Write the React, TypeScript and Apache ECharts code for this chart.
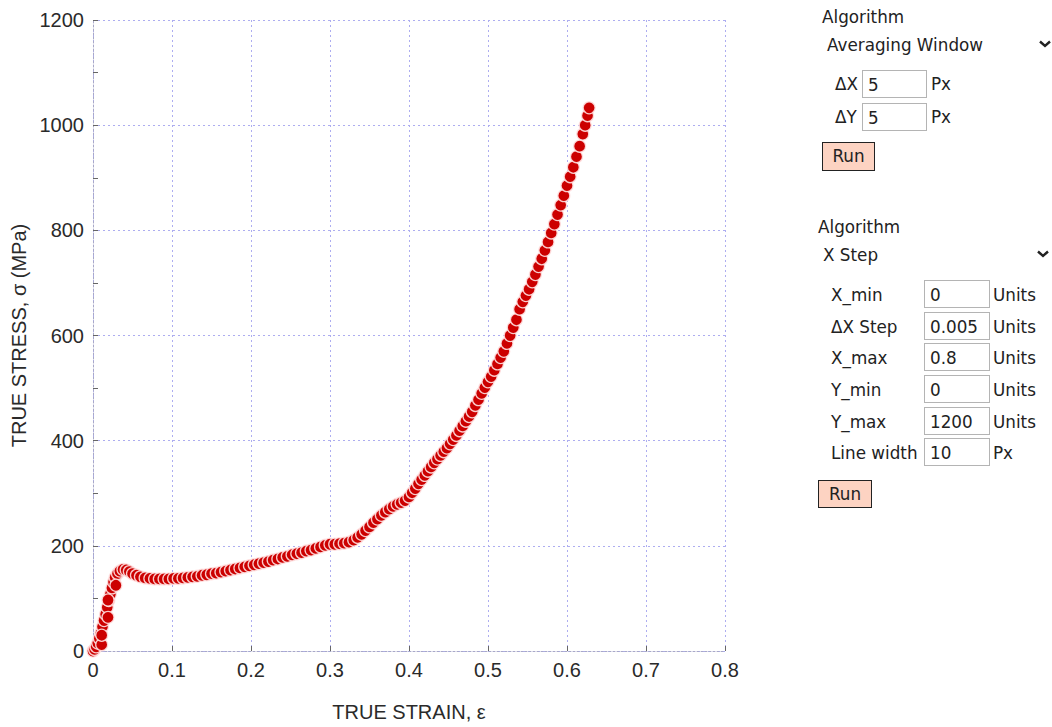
import React, { useEffect, useRef } from "react";
import * as echarts from "echarts";

// True strain / true stress points
const strain = [
  0, 0.002, 0.004, 0.006, 0.008, 0.01, 0.012, 0.014, 0.016, 0.018, 0.02, 0.022, 0.024, 0.026, 0.028,
  0.031, 0.034, 0.038, 0.042, 0.046, 0.05, 0.055, 0.06, 0.066, 0.072, 0.078, 0.084, 0.09, 0.096,
  0.102, 0.108, 0.114, 0.12, 0.126, 0.132, 0.138, 0.144, 0.15, 0.156, 0.162, 0.168, 0.174, 0.18,
  0.186, 0.192, 0.198, 0.204, 0.21, 0.216, 0.222, 0.228, 0.234, 0.24, 0.246, 0.252, 0.258, 0.264,
  0.27, 0.276, 0.282, 0.288, 0.294, 0.3, 0.306, 0.312, 0.318, 0.324, 0.33, 0.335, 0.34, 0.345, 0.35,
  0.355, 0.36, 0.365, 0.37, 0.375, 0.38, 0.385, 0.39, 0.395, 0.4, 0.404, 0.408, 0.412, 0.416, 0.42,
  0.424, 0.428, 0.432, 0.436, 0.44, 0.444, 0.448, 0.452, 0.456, 0.46, 0.464, 0.468, 0.472, 0.476,
  0.48, 0.484, 0.488, 0.492, 0.496, 0.5, 0.504, 0.508, 0.512, 0.516, 0.52, 0.524, 0.528, 0.532,
  0.536, 0.54, 0.544, 0.548, 0.552, 0.556, 0.56, 0.564, 0.568, 0.572, 0.576, 0.58, 0.584, 0.588,
  0.592, 0.596, 0.6, 0.604, 0.608, 0.612, 0.616, 0.62, 0.623, 0.626, 0.628,
];
const stress = [
  0, 3, 8, 15, 24, 34, 46, 58, 70, 83, 96, 108, 120, 131, 140,
  147, 152, 155, 154, 151, 147, 144, 141, 139, 138, 137, 137, 137, 137,
  138, 138, 139, 140, 141, 142, 144, 145, 147, 148, 150, 152, 154, 156,
  158, 160, 162, 164, 166, 168, 170, 173, 175, 178, 180, 183, 185, 187,
  190, 192, 195, 198, 201, 203, 203, 204, 205, 207, 211, 216, 222, 229, 236,
  244, 251, 258, 264, 270, 275, 279, 282, 286, 293, 301, 309, 318, 326, 334,
  342, 350, 358, 365, 372, 379, 386, 394, 402, 410, 419, 428, 437, 446,
  455, 467, 478, 490, 501, 512, 522, 534, 546, 558, 570, 585, 600, 615,
  630, 650, 664, 676, 688, 702, 716, 731, 746, 762, 778, 795, 812, 830,
  848, 866, 885, 902, 920, 940, 960, 983, 1000, 1018, 1033,
];
// Separate points below the rising edge
const extraStrain = [0.011, 0.011, 0.019, 0.019, 0.029];
const extraStress = [12, 30, 64, 97, 125];

const xMin = 0;
const xMax = 0.8;
const xStep = 0.1;
const yMin = 0;
const yMax = 1200;
const yStep = 200;

const xTitle = "TRUE STRAIN, ε";
const yTitle = "TRUE STRESS, σ (MPa)";

const panelFont = "'DejaVu Sans', Verdana, sans-serif";
const fs = 16.8;

function Txt({ x, y, children }: { x: number; y: number; children: React.ReactNode }) {
  return (
    <div
      style={{
        position: "absolute",
        left: x,
        top: y,
        transform: "translateY(-50%)",
        lineHeight: 1,
        whiteSpace: "nowrap",
        fontFamily: panelFont,
        fontSize: fs,
        color: "#222",
      }}
    >
      {children}
    </div>
  );
}

function Box({ x, y, w, h, value }: { x: number; y: number; w: number; h: number; value: string }) {
  return (
    <div
      style={{
        position: "absolute",
        left: x,
        top: y,
        width: w,
        height: h,
        boxSizing: "border-box",
        border: "1.5px solid #b4b4b4",
        background: "#fff",
        fontFamily: panelFont,
        fontSize: fs,
        color: "#222",
        lineHeight: `${h - 3}px`,
        paddingLeft: 5,
        paddingTop: 2,
        whiteSpace: "nowrap",
      }}
    >
      {value}
    </div>
  );
}

function Btn({ x, y, w, h }: { x: number; y: number; w: number; h: number }) {
  return (
    <div
      style={{
        position: "absolute",
        left: x,
        top: y,
        width: w,
        height: h,
        boxSizing: "border-box",
        border: "1px solid #222",
        background: "#fdd3c2",
        fontFamily: panelFont,
        fontSize: fs,
        color: "#222",
        textAlign: "center",
        lineHeight: `${h - 2}px`,
      }}
    >
      Run
    </div>
  );
}

function Chevron({ x, y }: { x: number; y: number }) {
  return (
    <svg
      style={{ position: "absolute", left: x - 7, top: y - 5 }}
      width={14}
      height={10}
      viewBox="0 0 14 10"
    >
      <polyline points="2,2.5 7,7 12,2.5" fill="none" stroke="#222" strokeWidth={2.4} />
    </svg>
  );
}

export default function App() {
  const ref = useRef<HTMLDivElement>(null);

  useEffect(() => {
    if (!ref.current) return;
    const chart = echarts.init(ref.current, undefined, { renderer: "svg" });
    const points = strain.map((s, i) => [s, stress[i]]);
    const extra = extraStrain.map((s, i) => [s, extraStress[i]]);
    const gridColor = "#adadf0";
    const labelStyle = {
      fontFamily: "'Liberation Sans', Arial, sans-serif",
      fontSize: 20,
      color: "#2a2a2a",
    };
    const dotStyle = {
      color: "#cc0000",
      borderColor: "rgba(255,225,225,0.9)",
      borderWidth: 1.3,
      opacity: 1,
    };
    chart.setOption({
      animation: false,
      grid: { left: 93, top: 20, width: 632, height: 634 },
      xAxis: {
        type: "value",
        min: xMin,
        max: xMax,
        interval: xStep,
        name: xTitle,
        nameLocation: "middle",
        nameGap: 51,
        nameTextStyle: { ...labelStyle },
        axisLine: { show: true, lineStyle: { color: "#a8a8c8", type: [2, 2], width: 1 } },
        axisTick: { show: true, inside: true, length: 5, lineStyle: { color: "#666" } },
        axisLabel: {
          ...labelStyle,
          margin: 9,
          formatter: (v: number) => (v === 0 ? "0" : v.toFixed(1)),
        },
        splitLine: { show: true, lineStyle: { color: gridColor, type: [2, 3], width: 1 } },
      },
      yAxis: {
        type: "value",
        min: yMin,
        max: yMax,
        interval: yStep,
        name: yTitle,
        nameLocation: "middle",
        nameGap: 57,
        nameTextStyle: { ...labelStyle },
        axisLine: { show: true, lineStyle: { color: "#a8a8c8", type: [2, 2], width: 1 } },
        axisTick: { show: true, inside: true, length: 5, lineStyle: { color: "#666" } },
        minorTick: { show: true, splitNumber: 2, length: 5, lineStyle: { color: "#666" } },
        axisLabel: { ...labelStyle, margin: 9, formatter: (v: number) => String(v) },
        splitLine: { show: true, lineStyle: { color: gridColor, type: [2, 3], width: 1 } },
      },
      series: [
        {
          type: "scatter",
          data: points,
          symbol: "circle",
          symbolSize: 12,
          itemStyle: dotStyle,
        },
        {
          type: "scatter",
          data: extra,
          symbol: "circle",
          symbolSize: 12,
          itemStyle: dotStyle,
        },
      ],
    });
    return () => chart.dispose();
  }, []);

  return (
    <div
      style={{
        position: "fixed",
        left: 0,
        top: 0,
        width: 1052,
        height: 727,
        background: "#fff",
        overflow: "hidden",
      }}
    >
      <div ref={ref} style={{ position: "absolute", left: 0, top: 0, width: 800, height: 727 }} />

      {/* Panel 1 */}
      <Txt x={822} y={17}>Algorithm</Txt>
      <Txt x={827} y={45}>Averaging Window</Txt>
      <Chevron x={1045} y={44} />
      <Txt x={835} y={84}>ΔX</Txt>
      <Box x={862} y={70} w={65} h={28} value="5" />
      <Txt x={931} y={84}>Px</Txt>
      <Txt x={835} y={117}>ΔY</Txt>
      <Box x={862} y={103} w={65} h={28} value="5" />
      <Txt x={931} y={117}>Px</Txt>
      <Btn x={822} y={142} w={53} h={29} />

      {/* Panel 2 */}
      <Txt x={818} y={227}>Algorithm</Txt>
      <Txt x={823} y={255}>X Step</Txt>
      <Chevron x={1043} y={254} />
      <Txt x={831} y={295}>X_min</Txt>
      <Box x={924} y={280} w={66} h={28} value="0" />
      <Txt x={993} y={295}>Units</Txt>
      <Txt x={831} y={327}>ΔX Step</Txt>
      <Box x={924} y={312} w={66} h={28} value="0.005" />
      <Txt x={993} y={327}>Units</Txt>
      <Txt x={831} y={358}>X_max</Txt>
      <Box x={924} y={343} w={66} h={28} value="0.8" />
      <Txt x={993} y={358}>Units</Txt>
      <Txt x={831} y={390}>Y_min</Txt>
      <Box x={924} y={375} w={66} h={28} value="0" />
      <Txt x={993} y={390}>Units</Txt>
      <Txt x={831} y={422}>Y_max</Txt>
      <Box x={924} y={407} w={66} h={28} value="1200" />
      <Txt x={993} y={422}>Units</Txt>
      <Txt x={831} y={453}>Line width</Txt>
      <Box x={924} y={438} w={66} h={28} value="10" />
      <Txt x={993} y={453}>Px</Txt>
      <Btn x={818} y={480} w={54} h={28} />
    </div>
  );
}
